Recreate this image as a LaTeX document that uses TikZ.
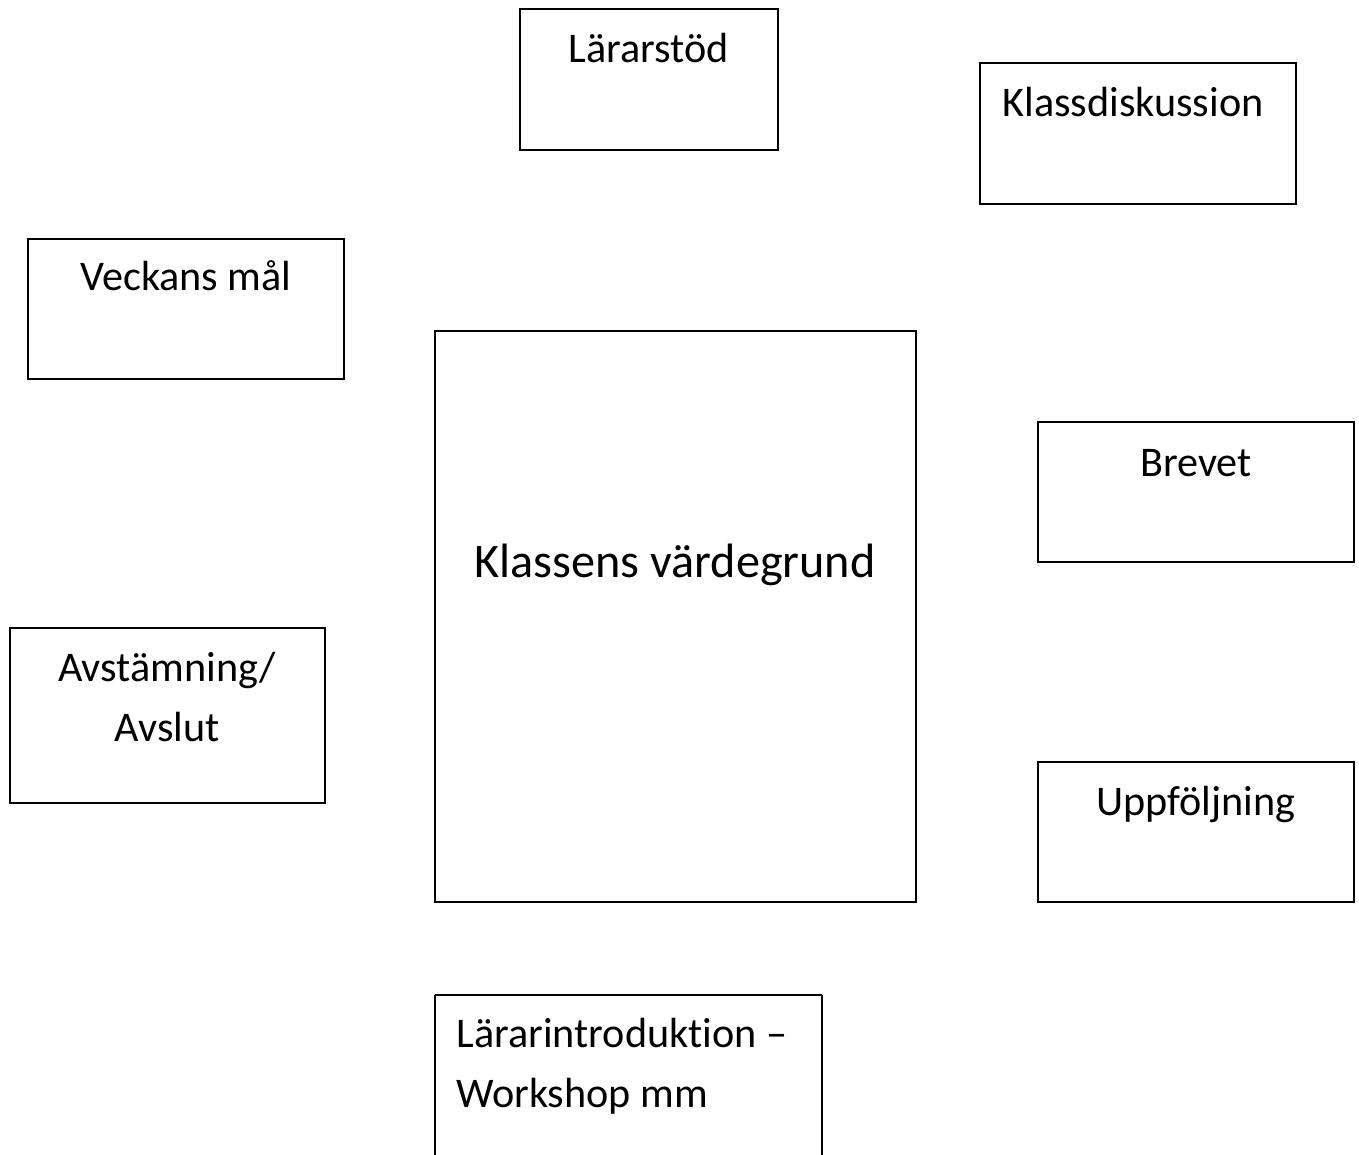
\documentclass[tikz,border=0pt]{standalone}
\usepackage{fontspec}
\setmainfont[RawFeature=-liga]{Carlito}
\begin{document}
\begin{tikzpicture}[x=0.5pt,y=-0.5pt,
  box/.style={draw=black,line width=0.75pt,inner sep=0pt},
  lbl/.style={anchor=base,inner sep=0pt,font=\fontsize{21.1}{30}\selectfont},
  big/.style={anchor=base,inner sep=0pt,font=\fontsize{24.1}{30}\selectfont}]
\useasboundingbox (0,0) rectangle (1359,1155);
\fill[white] (0,0) rectangle (1359,1155);
% boxes
\draw[box] (520,9) rectangle (778,150);
\draw[box] (980,63) rectangle (1296,204);
\draw[box] (28,239) rectangle (344,379);
\draw[box] (435,331) rectangle (916,902);
\draw[box] (1038,422) rectangle (1354,562);
\draw[box] (10,628) rectangle (325,803);
\draw[box] (1038,762) rectangle (1354,902);
\draw[box] (435,995) -- (822,995);
\draw[box] (435,995) -- (435,1160);
\draw[box] (822,995) -- (822,1160);
% texts
\node[lbl] (t1) at (649,63) {Lärarstöd};
\node[lbl] (t2) at (1133,117) {Klassdiskussion};
\node[lbl] (t3) at (186,291) {Veckans mål};
\node[big] (t4) at (675,577) {Klassens värdegrund};
\node[lbl] (t5) at (1196,476) {Brevet};
\node[lbl] (t6a) at (167,681) {Avstämning/};
\node[lbl] (t6b) at (167,741) {Avslut};
\node[lbl] (t7) at (1196,815) {Uppföljning};
\node[lbl,anchor=base west] (t8a) at (456,1047) {Lärarintroduktion –};
\node[lbl,anchor=base west] (t8b) at (456,1107) {Workshop mm};
\end{tikzpicture}
\end{document}
